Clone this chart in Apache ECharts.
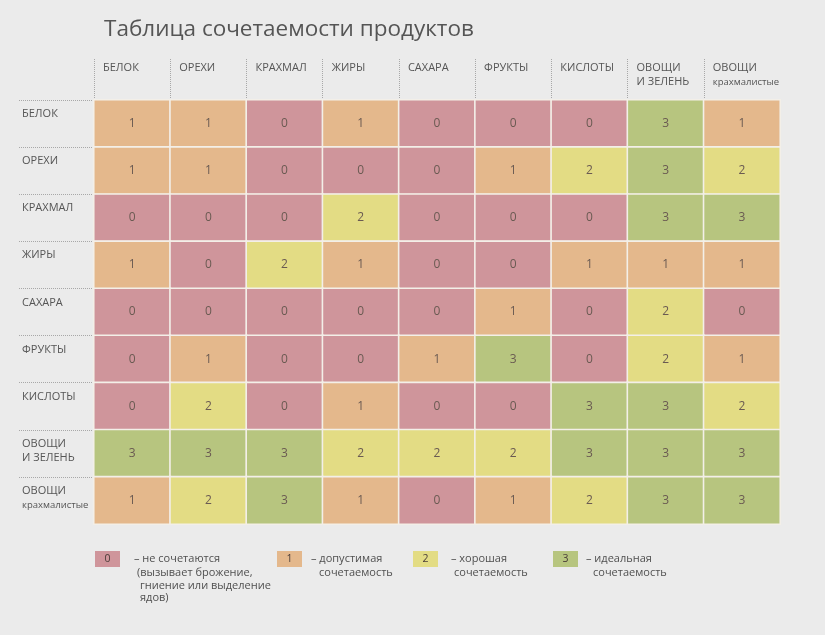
<!DOCTYPE html>
<html><head><meta charset="utf-8">
<script src="https://cdn.jsdelivr.net/npm/echarts@6/dist/echarts.min.js"></script>
<style>html,body{margin:0;padding:0;background:#ebebeb;}#c{width:825px;height:635px;}</style>
</head><body><div id="c"></div>
<script>
const title = 'Таблица сочетаемости продуктов';
const columns = ['БЕЛОК','ОРЕХИ','КРАХМАЛ','ЖИРЫ','САХАРА','ФРУКТЫ','КИСЛОТЫ','ОВОЩИ|И ЗЕЛЕНЬ','ОВОЩИ|крахмалистые'];
const rows = ['БЕЛОК','ОРЕХИ','КРАХМАЛ','ЖИРЫ','САХАРА','ФРУКТЫ','КИСЛОТЫ','ОВОЩИ|И ЗЕЛЕНЬ','ОВОЩИ|крахмалистые'];
const values = [
  [1,1,0,1,0,0,0,3,1],
  [1,1,0,0,0,1,2,3,2],
  [0,0,0,2,0,0,0,3,3],
  [1,0,2,1,0,0,1,1,1],
  [0,0,0,0,0,1,0,2,0],
  [0,1,0,0,1,3,0,2,1],
  [0,2,0,1,0,0,3,3,2],
  [3,3,3,2,2,2,3,3,3],
  [1,2,3,1,0,1,2,3,3]
];
const levels = [0,1,2,3];
const levelColors = ['#cf959b','#e4b88c','#e3dc84','#b7c57f'];
const legendLines = [
  ['– не сочетаются','(вызывает брожение,','гниение или выделение','ядов)'],
  ['– допустимая','сочетаемость'],
  ['– хорошая','сочетаемость'],
  ['– идеальная','сочетаемость']
];

const FONT = '"Open Sans", "Noto Sans", sans-serif';
const data = [];
values.forEach((r, ri) => r.forEach((v, ci) => data.push([ci, ri, v])));

function fmtLabel(name) {
  const parts = name.split('|');
  if (parts.length === 1) return '{a|' + parts[0] + '}';
  const second = parts[1] === parts[1].toLowerCase() ? '{b|' + parts[1] + '}' : '{a|' + parts[1] + '}';
  return '{a|' + parts[0] + '}\n' + second;
}
const idx = [0,1,2,3,4,5,6,7,8];
const richStyle = {
  a: {fontSize: 11, color: '#555', fontFamily: FONT, lineHeight: 14},
  b: {fontSize: 9.5, color: '#555', fontFamily: FONT, lineHeight: 14}
};

const chart = echarts.init(document.getElementById('c'), null, {renderer: 'canvas'});

const graphics = [];
const legendX = [95, 277, 413, 553];
const legendTextX = [[134,137,140,140],[311,319],[451,454],[586,593]];
const lineY = [559, 573, 586, 598];
levels.forEach((lv, i) => {
  graphics.push({type: 'rect', left: legendX[i], top: 551, shape: {width: 25, height: 16},
    style: {fill: levelColors[i]}});
  graphics.push({type: 'text', x: legendX[i] + 12.5, y: 559,
    style: {text: String(lv), font: '10.5px ' + FONT, fill: '#4a3d38', align: 'center', verticalAlign: 'middle'}});
  legendLines[i].forEach((ln, j) => {
    graphics.push({type: 'text', x: legendTextX[i][j], y: lineY[j],
      style: {text: ln, font: '11px ' + FONT, fill: '#505050', verticalAlign: 'middle'}});
  });
});

chart.setOption({
  backgroundColor: '#ebebeb',
  animation: false,
  title: {text: title, left: 99, top: 13,
    textStyle: {fontSize: 22.5, fontWeight: 'normal', color: '#555', fontFamily: FONT}},
  grid: {left: 94, right: 45, top: 100, bottom: 111},
  xAxis: [
    {type: 'category', data: columns, position: 'bottom', show: false},
    {type: 'value', min: 0, max: 9, interval: 1, position: 'top',
      axisLine: {show: false}, splitLine: {show: false},
      axisTick: {show: true, customValues: idx, length: 42,
        lineStyle: {type: 'dotted', color: '#a8a8a8', width: 1}},
      axisLabel: {customValues: idx, formatter: v => fmtLabel(columns[v]),
        align: 'left', verticalAlign: 'top', margin: 39, padding: [0,0,0,9], rich: richStyle}}
  ],
  yAxis: [
    {type: 'category', data: rows, inverse: true, position: 'right', show: false},
    {type: 'value', min: 0, max: 9, interval: 1, inverse: true, position: 'left',
      axisLine: {show: false}, splitLine: {show: false},
      axisTick: {show: true, customValues: idx, length: 75,
        lineStyle: {type: 'dotted', color: '#a8a8a8', width: 1}},
      axisLabel: {customValues: idx, formatter: v => fmtLabel(rows[v]),
        align: 'left', verticalAlign: 'top', margin: 72, padding: [7,0,0,0], rich: richStyle}}
  ],
  visualMap: {type: 'piecewise', show: false, dimension: 2,
    pieces: levels.map((lv, i) => ({value: lv, color: levelColors[i]}))},
  series: [{
    type: 'heatmap', xAxisIndex: 0, yAxisIndex: 0, data: data,
    itemStyle: {borderColor: '#f3efe8', borderWidth: 1.6},
    label: {show: true, formatter: p => p.value[2], color: '#6a5a52', fontSize: 12, fontFamily: FONT},
    emphasis: {disabled: true}
  }],
  graphic: graphics
});
</script></body></html>
